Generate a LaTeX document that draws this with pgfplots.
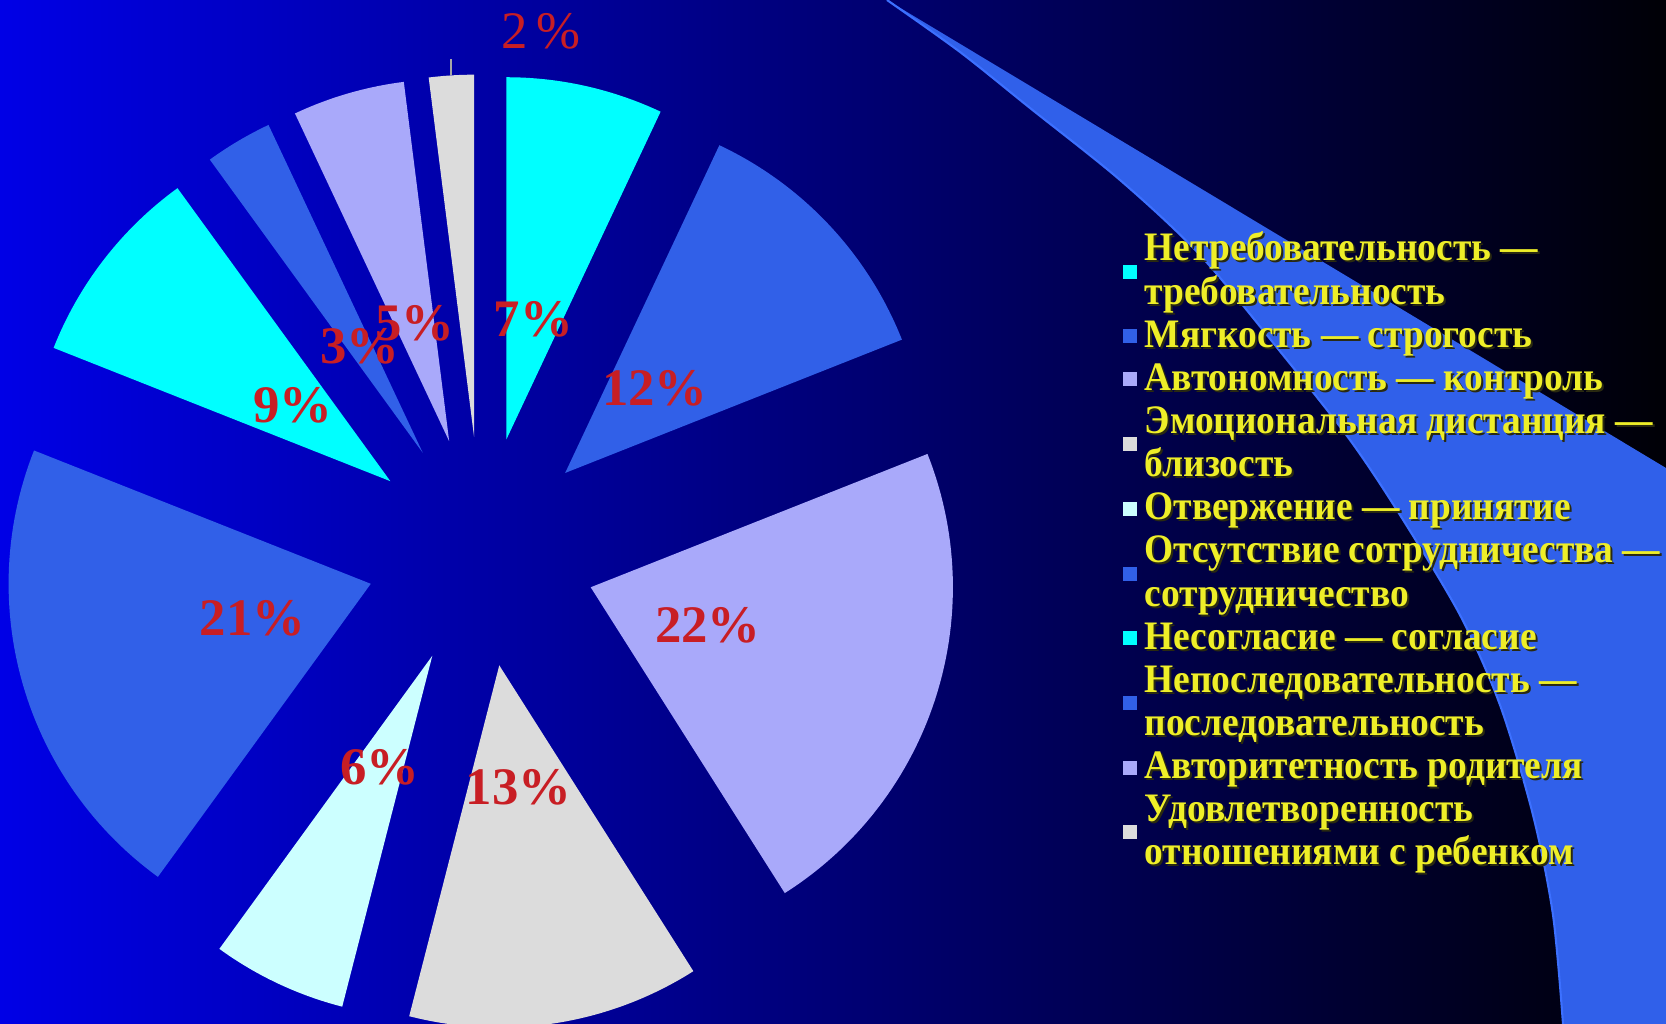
\documentclass[border=0pt]{standalone}
\usepackage{pgfplots}
\pgfplotsset{compat=1.18}
\usepackage{fontspec}
\setmainfont{Liberation Serif}
\newfontfamily\legfont{Liberation Serif}[UprightFont={* Bold}, FakeStretch=0.925]
\definecolor{bgL}{HTML}{0000E6}
\definecolor{bgR}{HTML}{000006}
\definecolor{swoosh}{HTML}{3060EA}
\definecolor{swooshEdge}{HTML}{3C70FF}
\definecolor{sCyan}{HTML}{00FFFF}
\definecolor{sBlue}{HTML}{3160E8}
\definecolor{sLav}{HTML}{A9A9FA}
\definecolor{sGrey}{HTML}{DCDCDC}
\definecolor{sLCyan}{HTML}{CCFFFF}
\definecolor{lblRed}{HTML}{C81E24}
\definecolor{legYellow}{HTML}{EEEE28}
\definecolor{legShadow}{HTML}{2A2A10}
\tikzset{
  pctlbl/.style={font=\fontsize{15}{17}\selectfont\bfseries, text=lblRed, inner sep=0pt},
  leg/.style={anchor=base west, inner sep=0pt, text=legYellow, font=\legfont\fontsize{11.5}{13}\selectfont},
}
\begin{document}
\begin{tikzpicture}[x=0.01cm,y=0.01cm]
\useasboundingbox (0,0) rectangle (1666,1024);
\shade[left color=bgL, right color=bgR] (0,0) rectangle (1666,1024);
% decorative swoosh
\def\swcurve{(1563,0) (1553,109) (1533,209) (1500,319) (1460,409) (1400,509) (1350,584) (1283,669) (1200,769) (1120,844) (1030,916) (960,972) (887,1024)}
\fill[swoosh] (887,1024) -- (1666,556) -- (1666,0) -- plot[smooth] coordinates \swcurve -- cycle;
\draw[swooshEdge, line width=0.6pt] plot[smooth] coordinates \swcurve;

\begin{axis}[at={(0,0)}, anchor=south west, width=16.66cm, height=10.24cm,
  scale only axis, xmin=0, xmax=1666, ymin=0, ymax=1024, hide axis, clip=true]
\def\cx{481}\def\cy{472}\def\R{362}\def\ex{115}\def\rl{238}
\xdef\cum{90}
\foreach \p/\col in {7/sCyan,12/sBlue,22/sLav,13/sGrey,6/sLCyan,21/sBlue,9/sCyan,3/sBlue,5/sLav,2/sGrey}{
  \pgfmathsetmacro\aS{\cum}
  \pgfmathsetmacro\aE{\cum-3.6*\p}
  \pgfmathsetmacro\aM{(\aS+\aE)/2}
  \pgfmathsetmacro\st{(\aS-\aE)/60}
  \pgfmathsetmacro\tx{\cx+\ex*cos(\aM)}
  \pgfmathsetmacro\ty{\cy+\ex*sin(\aM)}
  \pgfmathsetmacro\lx{\cx+\rl*cos(\aM)}
  \pgfmathsetmacro\ly{\cy+\rl*sin(\aM)}
  \xdef\cum{\aE}
  \edef\temp{\noexpand\addplot[fill=\col, draw=none, mark=none, samples at={0,1,...,61}]
     ({x<0.5 ? \tx : \tx+\R*cos(\aE+(x-1)*\st)}, {x<0.5 ? \ty : \ty+\R*sin(\aE+(x-1)*\st)});}
  \temp
  \ifnum\p>2
    \edef\temp{\noexpand\node[pctlbl] at (axis cs:\lx,\ly) {\p\noexpand\%};}
    \temp
  \fi
}
\draw[gray!70!white, line width=0.6pt] (axis cs:451,948) -- (axis cs:451,964);
\node[font=\fontsize{15}{17}\selectfont, text=lblRed, inner sep=0pt] at (axis cs:541,992) {2\,\%};
\end{axis}

\foreach \k/\t in {1/{Нетребовательность —},2/{требовательность},3/{Мягкость — строгость},4/{Автономность — контроль},5/{Эмоциональная дистанция —},6/{близость},7/{Отвержение — принятие},8/{Отсутствие сотрудничества —},9/{сотрудничество},10/{Несогласие — согласие},11/{Непоследовательность —},12/{последовательность},13/{Авторитетность родителя},14/{Удовлетворенность},15/{отношениями с ребенком}}{
  \node[leg, text=legShadow] at (1146,{1024-263-43.14*(\k-1)}) {\t};
  \node[leg] at (1144,{1024-261-43.14*(\k-1)}) {\t};
}
\foreach \m/\col in {1.5/sCyan,3/sBlue,4/sLav,5.5/sGrey,7/sLCyan,8.5/sBlue,10/sCyan,11.5/sBlue,13/sLav,14.5/sGrey}{
  \pgfmathsetmacro\my{1024-261-43.14*(\m-1)+11}
  \fill[\col] (1123,\my-7) rectangle (1137,\my+7);
}
\end{tikzpicture}
\end{document}
